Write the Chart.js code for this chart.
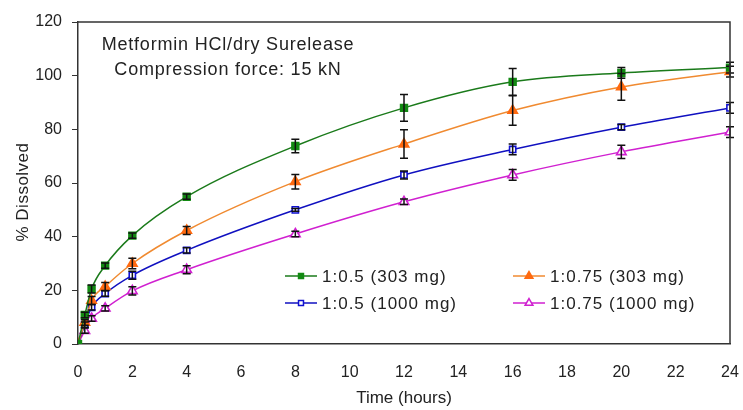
<!DOCTYPE html>
<html>
<head>
<meta charset="utf-8">
<script src="https://cdn.jsdelivr.net/npm/chart.js@4.4.1/dist/chart.umd.min.js"></script>
<style>
html,body{margin:0;padding:0;background:#fff;}
#wrap{width:743px;height:410px;}
</style>
</head>
<body>
<div id="wrap"><canvas id="c" width="743" height="410"></canvas></div>
<script>
const times = [0, 0.25, 0.5, 1, 2, 4, 8, 12, 16, 20, 24];
const s1_303 = [0, 10.8, 20.5, 29.2, 40.4, 54.9, 73.8, 88, 97.7, 101, 103];
const s1_303Err = [0, 1, 1.5, 1, 1, 1, 2.5, 5, 5, 2, 2];
const s2_303 = [0, 8, 16.2, 21.4, 30, 42.3, 60.5, 74.5, 87, 95.8, 101.5];
const s2_303Err = [0, 1, 1.5, 1.5, 2, 1.5, 2.7, 5.3, 5.5, 5, 2];
const s1_1000 = [0, 7.2, 13.7, 18.8, 25.6, 34.9, 50, 63, 72.5, 80.8, 88];
const s1_1000Err = [0, 1, 1, 1, 1.5, 1, 0.5, 1.5, 2, 1, 2];
const s2_1000 = [0, 5, 9.5, 13.3, 19.8, 27.7, 41, 53, 63, 71.6, 79];
const s2_1000Err = [0, 1, 1, 1, 1.5, 1.5, 1, 1, 2, 2.5, 2];
const labels = ['1:0.5 (303 mg)', '1:0.75 (303 mg)', '1:0.5 (1000 mg)', '1:0.75 (1000 mg)'];
const noteLines = ['Metformin HCl/dry Surelease', 'Compression force: 15 kN'];
const xTitle = 'Time (hours)';
const yTitle = '% Dissolved';

const FONT = "'Liberation Sans', Arial, sans-serif";
const pts = (ys) => times.map((t, i) => ({x: t, y: ys[i]}));

const ds = [
  {label: labels[0], data: pts(s1_303), err: s1_303Err, borderColor: '#1a7a1a', backgroundColor: '#138a13', pointBorderColor: '#138a13', pointStyle: 'rect', pointRadius: 4.8},
  {label: labels[1], data: pts(s2_303), err: s2_303Err, borderColor: '#f08a30', backgroundColor: '#ff6a10', pointBorderColor: '#ff6a10', pointStyle: 'triangle', pointRadius: 5.5},
  {label: labels[2], data: pts(s1_1000), err: s1_1000Err, borderColor: '#1010c0', backgroundColor: '#ffffff', pointBorderColor: '#1010d0', pointStyle: 'rect', pointRadius: 4.4},
  {label: labels[3], data: pts(s2_1000), err: s2_1000Err, borderColor: '#d020d0', backgroundColor: '#ffffff', pointBorderColor: '#d020d0', pointStyle: 'triangle', pointRadius: 5.5}
].map(d => Object.assign({
  borderWidth: 1.5,
  pointBorderWidth: 1.6,
  pointBackgroundColor: d.backgroundColor,
  cubicInterpolationMode: 'monotone',
  fill: false
}, d));

const errorBars = {
  id: 'errorBars',
  afterDatasetsDraw(chart) {
    const ctx = chart.ctx;
    const y = chart.scales.y;
    ctx.save();
    ctx.strokeStyle = '#111';
    ctx.lineWidth = 1.5;
    chart.data.datasets.forEach((d, di) => {
      const meta = chart.getDatasetMeta(di);
      meta.data.forEach((p, i) => {
        const e = d.err[i];
        if (!e) return;
        const v = d.data[i].y;
        const yt = y.getPixelForValue(v + e);
        const yb = y.getPixelForValue(v - e);
        ctx.beginPath();
        ctx.moveTo(p.x, yt); ctx.lineTo(p.x, yb);
        ctx.moveTo(p.x - 4, yt); ctx.lineTo(p.x + 4, yt);
        ctx.moveTo(p.x - 4, yb); ctx.lineTo(p.x + 4, yb);
        ctx.stroke();
      });
    });
    ctx.restore();
  }
};

const frame = {
  id: 'frame',
  afterDraw(chart) {
    const ctx = chart.ctx, a = chart.chartArea;
    ctx.save();
    ctx.strokeStyle = '#333';
    ctx.lineWidth = 1.5;
    ctx.beginPath();
    ctx.moveTo(a.left, a.top); ctx.lineTo(a.right, a.top); ctx.lineTo(a.right, a.bottom);
    ctx.stroke();
    // y-axis title
    ctx.fillStyle = '#222';
    ctx.font = '17px ' + FONT;
    ctx.letterSpacing = '0.5px';
    ctx.textAlign = 'center';
    ctx.textBaseline = 'middle';
    ctx.save();
    ctx.translate(23, 192);
    ctx.rotate(-Math.PI / 2);
    ctx.fillText(yTitle, 0, 0);
    ctx.restore();
    // note text
    ctx.font = '18px ' + FONT;
    ctx.letterSpacing = '0.8px';
    ctx.fillText(noteLines[0], 228, 45);
    ctx.fillText(noteLines[1], 228, 70);
    // legend
    const items = [
      {i: 0, lx: 285, y: 276},
      {i: 1, lx: 513, y: 276},
      {i: 2, lx: 285, y: 303},
      {i: 3, lx: 513, y: 303}
    ];
    ctx.font = '17px ' + FONT;
    ctx.letterSpacing = '1px';
    ctx.textAlign = 'left';
    items.forEach(it => {
      const d = chart.data.datasets[it.i];
      ctx.strokeStyle = d.borderColor;
      ctx.lineWidth = 1.5;
      ctx.beginPath();
      ctx.moveTo(it.lx, it.y); ctx.lineTo(it.lx + 32, it.y);
      ctx.stroke();
      ctx.fillStyle = d.pointBackgroundColor;
      ctx.strokeStyle = d.pointBorderColor;
      Chart.helpers.drawPoint(ctx, {pointStyle: d.pointStyle, radius: d.pointStyle === 'rect' ? 3.5 : 4.5, rotation: 0, borderWidth: 1.5}, it.lx + 16, it.y);
      ctx.fillStyle = '#222';
      ctx.fillText(d.label, it.lx + 37, it.y + 1);
    });
    ctx.restore();
  }
};

new Chart(document.getElementById('c'), {
  type: 'line',
  data: {datasets: ds},
  plugins: [errorBars, frame],
  options: {
    responsive: false,
    animation: false,
    devicePixelRatio: 1,
    layout: {padding: {top: 22, right: 13, left: 0, bottom: 0}},
    plugins: {legend: {display: false}, tooltip: {enabled: false}},
    scales: {
      x: {
        type: 'linear', min: 0, max: 24,
        afterFit(s) { s.height = 66; s.paddingLeft = 0; s.paddingRight = 0; },
        ticks: {stepSize: 2, color: '#222', font: {family: FONT, size: 16}, padding: 13},
        grid: {display: false, drawOnChartArea: false, drawTicks: true, tickLength: 6, tickColor: '#333'},
        border: {display: true, color: '#333', width: 1.5},
        title: {display: true, text: xTitle, color: '#222', font: {family: FONT, size: 17}, padding: {top: 0, bottom: 1}}
      },
      y: {
        type: 'linear', min: 0, max: 120,
        afterFit(s) { s.width = 78; s.paddingTop = 0; s.paddingBottom = 0; },
        ticks: {stepSize: 20, color: '#222', font: {family: FONT, size: 16}, padding: 10},
        grid: {display: true, drawOnChartArea: false, drawTicks: true, tickLength: 6, tickColor: '#333'},
        border: {display: true, color: '#333', width: 1.5},
        title: {display: false}
      }
    }
  }
});
</script>
</body>
</html>
